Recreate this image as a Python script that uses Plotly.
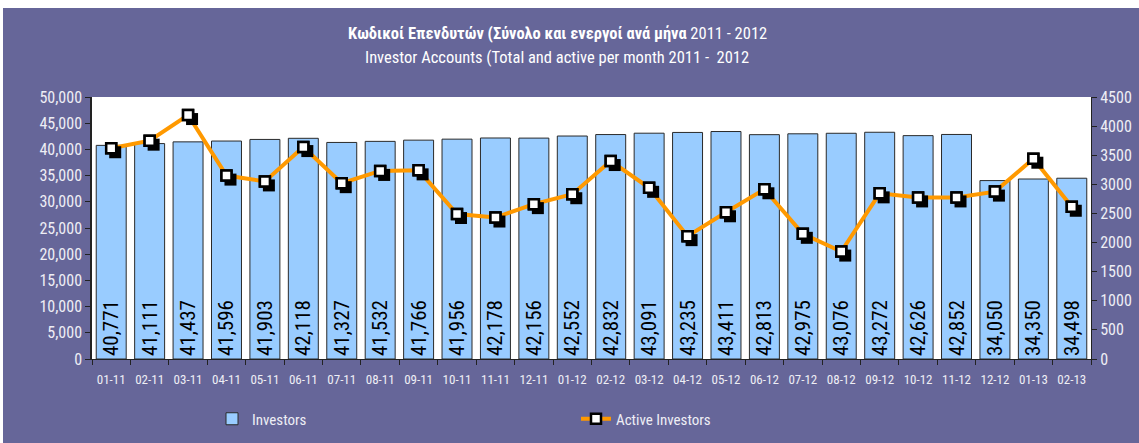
import plotly.graph_objects as go

months = ["01-11", "02-11", "03-11", "04-11", "05-11", "06-11", "07-11", "08-11", "09-11",
          "10-11", "11-11", "12-11", "01-12", "02-12", "03-12", "04-12", "05-12", "06-12",
          "07-12", "08-12", "09-12", "10-12", "11-12", "12-12", "01-13", "02-13"]
investors = [40771, 41111, 41437, 41596, 41903, 42118, 41327, 41532, 41766, 41956, 42178,
             42156, 42552, 42832, 43091, 43235, 43411, 42813, 42975, 43076, 43272, 42626,
             42852, 34050, 34350, 34498]
active = [3620, 3750, 4190, 3150, 3050, 3640, 3020, 3230, 3240, 2490, 2430, 2660, 2830,
          3400, 2940, 2110, 2520, 2915, 2150, 1845, 2845, 2775, 2775, 2875, 3440, 2615]

title_gr = "Κωδικοί Επενδυτών (Σύνολο και ενεργοί ανά μήνα"
title_gr_tail = "2011 - 2012"
title_en = "Investor Accounts (Total and active per month 2011 -  2012"

W, H = 1139, 443
L, R, T, B = 92, 48, 97, 84
PW, PH = W - L - R, H - T - B
BG = "#666699"
FONT = "Roboto Condensed, Liberation Sans, Arial, sans-serif"
TXT = "#EEEEF5"

def px_x(p):
    return (p - L) / PW

def px_y(p):
    return (H - B - p) / PH

fig = go.Figure()

fig.add_trace(go.Bar(
    x=months, y=investors, name="Investors",
    marker=dict(color="#99CCFF", line=dict(color="#2a2a2a", width=1)),
    width=0.78,
    text=[f"{v:,}" for v in investors], textposition="inside", textangle=-90,
    insidetextanchor="start", constraintext="none",
    textfont=dict(color="black", size=21, family=FONT),
    legend="legend", hoverinfo="skip",
))

fig.add_trace(go.Scatter(
    x=months, y=active, name="Active Investors", mode="lines+markers",
    line=dict(color="#FF9900", width=4),
    marker=dict(symbol="square", size=10, color="white", line=dict(color="black", width=2.5)),
    yaxis="y2", legend="legend2",
))

# marker shadows (offset axes)
fig.add_trace(go.Scatter(
    x=months, y=active, mode="markers", showlegend=False,
    marker=dict(symbol="square", size=12, color="black"),
    xaxis="x2", yaxis="y3", hoverinfo="skip",
))
fig.add_trace(go.Scatter(
    x=months, y=active, mode="markers", showlegend=False,
    marker=dict(symbol="square", size=10, color="white", line=dict(color="black", width=2.5)),
    xaxis="x3", yaxis="y4",
))

n = len(months)
dx = 4 / (PW / n)
dy = 4 * 4500 / PH

axis_common = dict(showgrid=False, zeroline=False)
fig.update_layout(
    width=W, height=H, margin=dict(l=L, r=R, t=T, b=B, autoexpand=False),
    paper_bgcolor=BG, plot_bgcolor="white",
    font=dict(family=FONT, color=TXT),
    xaxis=dict(type="category", categoryorder="array", categoryarray=months,
               range=[-0.5, n - 0.5], tickson="boundaries", ticks="outside", ticklen=5,
               tickcolor="#222", showline=True, linecolor="#222", linewidth=1,
               tickangle=0, ticklabelstandoff=8, tickfont=dict(size=13, color=TXT),
               **axis_common),
    yaxis=dict(range=[0, 50000], dtick=5000, tickformat=",", ticks="outside", ticklen=5,
               tickcolor="#222", showline=True, linecolor="#222", linewidth=1.5,
               tickfont=dict(size=16, color=TXT), **axis_common),
    yaxis2=dict(overlaying="y", side="right", range=[0, 4500], dtick=500, tickformat="d",
                ticks="outside", ticklen=5, tickcolor="#222", showline=True,
                linecolor="#222", linewidth=1, tickfont=dict(size=16, color=TXT),
                **axis_common),
    xaxis2=dict(overlaying="x", type="category", categoryorder="array", categoryarray=months,
                range=[-0.5 - dx, n - 0.5 - dx], visible=False),
    yaxis3=dict(overlaying="y", anchor="x2", range=[dy, 4500 + dy], visible=False),
    xaxis3=dict(overlaying="x", type="category", categoryorder="array", categoryarray=months,
                range=[-0.5, n - 0.5], visible=False),
    yaxis4=dict(overlaying="y", anchor="x3", range=[0, 4500], visible=False),
    legend=dict(x=px_x(212), y=px_y(419), xanchor="left", yanchor="middle",
                bgcolor="rgba(0,0,0,0)", font=dict(size=15, color=TXT, family=FONT),
                orientation="h"),
    legend2=dict(x=px_x(576), y=px_y(419), xanchor="left", yanchor="middle",
                 bgcolor="rgba(0,0,0,0)", font=dict(size=15, color=TXT, family=FONT),
                 orientation="h"),
    showlegend=True,
)

fig.add_annotation(xref="paper", yref="paper", x=px_x(557), y=px_y(33), showarrow=False,
                   text=f"<b>{title_gr}</b> {title_gr_tail}", font=dict(size=16.5, color="white"),
                   xanchor="center", yanchor="middle")
fig.add_annotation(xref="paper", yref="paper", x=px_x(557), y=px_y(58), showarrow=False,
                   text=title_en, font=dict(size=16.5, color="white"),
                   xanchor="center", yanchor="middle")

# white frame at the top and left edge
fig.add_shape(type="rect", xref="paper", yref="paper", x0=px_x(0), x1=px_x(W),
              y0=px_y(8), y1=px_y(0), fillcolor="white", line=dict(width=0), layer="below")
fig.add_shape(type="rect", xref="paper", yref="paper", x0=px_x(0), x1=px_x(3),
              y0=px_y(H), y1=px_y(0), fillcolor="white", line=dict(width=0), layer="below")

fig.write_html("out.html")
